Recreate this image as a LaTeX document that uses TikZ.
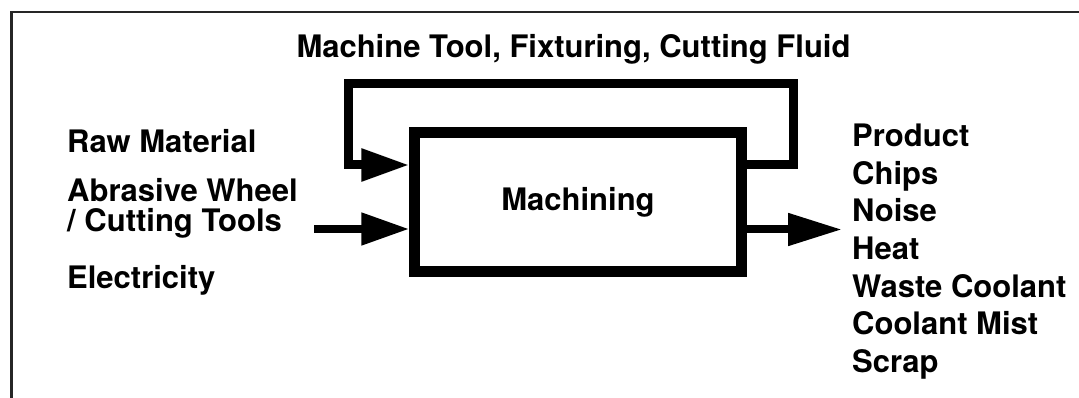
\documentclass[tikz,border=0pt]{standalone}
\usepackage{fontspec}
\setmainfont{TeX Gyre Heros}
\usetikzlibrary{arrows.meta}

\begin{document}
\begin{tikzpicture}[x=1pt, y=-1pt,
    lbl/.style = {font=\fontsize{31}{31}\selectfont\bfseries, inner sep=0pt, anchor=base west},
    proc/.style = {draw, line width=11pt, minimum width=326.5pt, minimum height=139pt,
                   font=\fontsize{31}{31}\selectfont\bfseries},
    flow/.style = {line width=8pt, -{Triangle[length=48pt, width=31pt]}}]
    \useasboundingbox (0,0) rectangle (1079,398);
    % frame, runs off the right and bottom edges
    \begin{scope}
        \clip (0,0) rectangle (1079,398);
        \draw[line width=2.5pt, black!85] (11.5,12) rectangle (1110,420);
    \end{scope}

    \node[proc] (mach) at (578,202) {Machining};

    % inputs
    \node[lbl] (raw) at (67,153) {Raw Material};
    \node[lbl] (wheel) at (67,202) {Abrasive Wheel};
    \node[lbl] (tools) at (67,232) {/ Cutting Tools};
    \node[lbl] (elec) at (67,288) {Electricity};

    % outputs
    \node[lbl] (product) at (852,147) {Product};
    \node[lbl] (chips) at (852,184.5) {Chips};
    \node[lbl] (noise) at (852,222) {Noise};
    \node[lbl] (heat) at (852,259.5) {Heat};
    \node[lbl] (waste) at (852,297) {Waste Coolant};
    \node[lbl] (mist) at (852,334.5) {Coolant Mist};
    \node[lbl] (scrap) at (852,372) {Scrap};

    % feedback loop
    \node[lbl, anchor=base] (tooling) at (573.5,58) {Machine Tool, Fixturing, Cutting Fluid};
    \coordinate (fbR) at (793.5,84);
    \coordinate (fbL) at (348,84);
    \draw[flow, line width=9pt] ([yshift=37pt]mach.east) -| (fbR) -| (fbL) |- ([yshift=37pt]mach.west);

    \coordinate (inTail) at (314,229);
    \coordinate (outTip) at (842,229.5);
    \draw[flow] (inTail) -- (inTail -| mach.west);
    \draw[flow, -{Triangle[length=54pt, width=31pt]}] (mach.east |- outTip) -- (outTip);
\end{tikzpicture}
\end{document}
